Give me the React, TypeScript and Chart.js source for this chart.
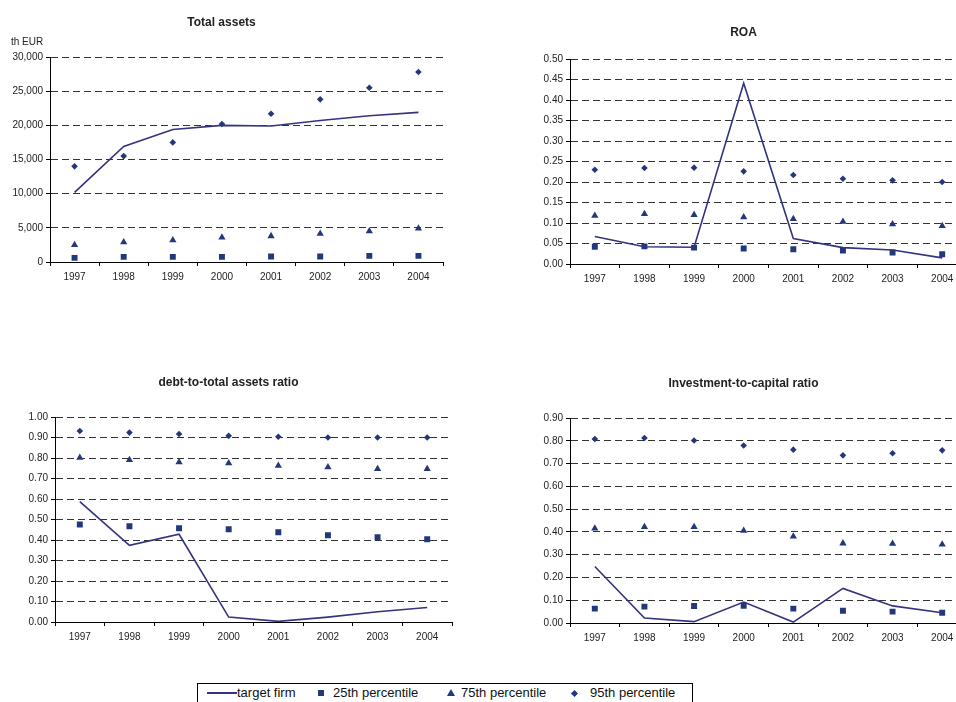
import React, { useEffect, useRef } from "react";
import { Chart, registerables } from "chart.js";

Chart.register(...registerables);

// ---------- data ----------
const YEARS = ["1997", "1998", "1999", "2000", "2001", "2002", "2003", "2004"];

const TA_TARGET = [10200, 16900, 19400, 20000, 19900, 20700, 21400, 21900];
const TA_P25 = [600, 750, 750, 750, 800, 800, 900, 900];
const TA_P75 = [2500, 2900, 3200, 3600, 3800, 4150, 4500, 4900];
const TA_P95 = [14000, 15500, 17500, 20200, 21700, 23800, 25500, 27800];

const ROA_TARGET = [0.067, 0.042, 0.041, 0.441, 0.062, 0.04, 0.034, 0.015];
const ROA_P25 = [0.042, 0.043, 0.04, 0.038, 0.036, 0.033, 0.028, 0.024];
const ROA_P75 = [0.118, 0.122, 0.12, 0.114, 0.11, 0.103, 0.097, 0.093];
const ROA_P95 = [0.23, 0.234, 0.235, 0.226, 0.217, 0.208, 0.204, 0.2];

const DEBT_TARGET = [0.587, 0.374, 0.428, 0.024, 0.003, 0.024, 0.05, 0.071];
const DEBT_P25 = [0.476, 0.467, 0.457, 0.452, 0.438, 0.423, 0.413, 0.404];
const DEBT_P75 = [0.802, 0.791, 0.78, 0.775, 0.763, 0.755, 0.747, 0.747];
const DEBT_P95 = [0.932, 0.924, 0.917, 0.908, 0.904, 0.9, 0.9, 0.9];

const INV_TARGET = [0.248, 0.022, 0.006, 0.092, 0.004, 0.152, 0.075, 0.045];
const INV_P25 = [0.063, 0.072, 0.075, 0.076, 0.063, 0.054, 0.05, 0.045];
const INV_P75 = [0.415, 0.422, 0.422, 0.405, 0.38, 0.35, 0.348, 0.345];
const INV_P95 = [0.808, 0.812, 0.801, 0.779, 0.761, 0.736, 0.745, 0.758];

const SERIES_NAMES = ["target firm", "25th percentile", "75th percentile", "95th percentile"];

// ---------- styles ----------
const FONT = "'Liberation Sans', Arial, sans-serif";
const LINE_COLOR = "#33337f";
const MARK_COLOR = "#22387a";
const GRID_COLOR = "#333333";
const TEXT_COLOR = "#222222";

type PanelProps = {
  title: string;
  left: number;
  top: number;
  width: number;
  height: number;
  titlePadTop: number;
  titlePadBottom: number;
  padRight: number;
  yMax: number;
  yStep: number;
  decimals: number;
  target: number[];
  p25: number[];
  p75: number[];
  p95: number[];
  unitLabel?: string;
};

function Panel(p: PanelProps) {
  const ref = useRef<HTMLCanvasElement | null>(null);
  useEffect(() => {
    if (!ref.current) return;
    const unitPlugin = {
      id: "unitLabel",
      afterDraw(chart: any) {
        if (!p.unitLabel) return;
        const { ctx, chartArea } = chart;
        ctx.save();
        ctx.font = `10px ${FONT}`;
        ctx.fillStyle = TEXT_COLOR;
        ctx.textAlign = "left";
        ctx.textBaseline = "middle";
        ctx.fillText(p.unitLabel, chartArea.left - 39, chartArea.top - 15);
        ctx.restore();
      },
    };
    const chart = new Chart(ref.current, {
      type: "line",
      data: {
        labels: YEARS,
        datasets: [
          {
            label: SERIES_NAMES[0],
            data: p.target,
            borderColor: LINE_COLOR,
            borderWidth: 1.6,
            pointRadius: 0,
            tension: 0,
            fill: false,
            order: 0,
          },
          {
            label: SERIES_NAMES[1],
            data: p.p25,
            showLine: false,
            pointStyle: "rect",
            pointRadius: 4.2,
            pointBackgroundColor: MARK_COLOR,
            pointBorderWidth: 0,
            order: 1,
          },
          {
            label: SERIES_NAMES[2],
            data: p.p75,
            showLine: false,
            pointStyle: "triangle",
            pointRadius: 4.2,
            pointBackgroundColor: MARK_COLOR,
            pointBorderWidth: 0,
            order: 1,
          },
          {
            label: SERIES_NAMES[3],
            data: p.p95,
            showLine: false,
            pointStyle: "rectRot",
            pointRadius: 3.3,
            pointBackgroundColor: MARK_COLOR,
            pointBorderWidth: 0,
            order: 1,
          },
        ],
      },
      options: {
        responsive: false,
        animation: false,
        devicePixelRatio: window.devicePixelRatio || 1,
        layout: { padding: { left: 0, right: p.padRight, top: 0, bottom: 0 } },
        plugins: {
          legend: { display: false },
          tooltip: { enabled: false },
          title: {
            display: true,
            text: p.title,
            color: TEXT_COLOR,
            font: { family: FONT, size: 12, weight: "bold", lineHeight: 1.2 },
            padding: { top: p.titlePadTop, bottom: p.titlePadBottom },
          },
        },
        scales: {
          x: {
            type: "category",
            offset: true,
            grid: {
              display: true,
              offset: true,
              drawOnChartArea: false,
              drawTicks: true,
              tickLength: 4,
              color: "#000",
              lineWidth: 1,
            },
            border: { display: true, color: "#000", width: 1 },
            ticks: {
              color: TEXT_COLOR,
              font: { family: FONT, size: 10 },
              padding: 5,
              maxRotation: 0,
              autoSkip: false,
            },
            afterFit(scale: any) {
              scale.height = 30;
            },
          },
          y: {
            min: 0,
            max: p.yMax,
            grid: {
              display: true,
              color: GRID_COLOR,
              lineWidth: 1,
              drawTicks: true,
              tickLength: 4,
              tickColor: "#000",
            },
            border: { display: true, color: "#000", width: 1, dash: [7, 4] },
            ticks: {
              stepSize: p.yStep,
              color: TEXT_COLOR,
              font: { family: FONT, size: 10 },
              padding: 3,
              callback: (v: any) =>
                p.decimals === 0
                  ? Number(v).toLocaleString("en-US")
                  : Number(v).toFixed(p.decimals),
            },
            afterFit(scale: any) {
              scale.width = 50;
            },
          },
        },
      } as any,
      plugins: [unitPlugin],
    });
    return () => chart.destroy();
  }, []);
  return (
    <canvas
      ref={ref}
      width={p.width}
      height={p.height}
      style={{
        position: "absolute",
        left: p.left,
        top: p.top,
        width: p.width,
        height: p.height,
      }}
    />
  );
}

function LegendBox() {
  const textStyle: React.CSSProperties = {
    position: "absolute",
    top: 0,
    fontFamily: FONT,
    fontSize: 13,
    lineHeight: "18px",
    color: "#111",
    whiteSpace: "nowrap",
  };
  return (
    <div
      style={{
        position: "absolute",
        left: 197,
        top: 683,
        width: 496,
        height: 22,
        border: "1px solid #000",
        boxSizing: "border-box",
        background: "#fff",
      }}
    >
      <div
        style={{
          position: "absolute",
          left: 9,
          top: 8,
          width: 30,
          height: 2,
          background: LINE_COLOR,
        }}
      />
      <span style={{ ...textStyle, left: 39 }}>{SERIES_NAMES[0]}</span>
      <div
        style={{
          position: "absolute",
          left: 120,
          top: 6,
          width: 6,
          height: 6,
          background: MARK_COLOR,
        }}
      />
      <span style={{ ...textStyle, left: 135 }}>{SERIES_NAMES[1]}</span>
      <div
        style={{
          position: "absolute",
          left: 249,
          top: 5,
          width: 0,
          height: 0,
          borderLeft: "4px solid transparent",
          borderRight: "4px solid transparent",
          borderBottom: `7px solid ${MARK_COLOR}`,
        }}
      />
      <span style={{ ...textStyle, left: 263 }}>{SERIES_NAMES[2]}</span>
      <div
        style={{
          position: "absolute",
          left: 374,
          top: 7,
          width: 5,
          height: 5,
          background: MARK_COLOR,
          transform: "rotate(45deg)",
        }}
      />
      <span style={{ ...textStyle, left: 392 }}>{SERIES_NAMES[3]}</span>
    </div>
  );
}

export default function App() {
  return (
    <div
      style={{
        position: "absolute",
        left: 0,
        top: 0,
        width: 956,
        height: 702,
        overflow: "hidden",
        background: "#fff",
      }}
    >
      <Panel
        title="Total assets"
        left={0}
        top={0}
        width={468}
        height={292}
        titlePadTop={15}
        titlePadBottom={27.6}
        padRight={25}
        yMax={30000}
        yStep={5000}
        decimals={0}
        target={TA_TARGET}
        p25={TA_P25}
        p75={TA_P75}
        p95={TA_P95}
        unitLabel="th EUR"
      />
      <Panel
        title="ROA"
        left={520}
        top={0}
        width={476}
        height={294}
        titlePadTop={25}
        titlePadBottom={19.6}
        padRight={29}
        yMax={0.5}
        yStep={0.05}
        decimals={2}
        target={ROA_TARGET}
        p25={ROA_P25}
        p75={ROA_P75}
        p95={ROA_P95}
      />
      <Panel
        title="debt-to-total assets ratio"
        left={5}
        top={360}
        width={476}
        height={292}
        titlePadTop={15.8}
        titlePadBottom={26.8}
        padRight={29}
        yMax={1}
        yStep={0.1}
        decimals={2}
        target={DEBT_TARGET}
        p25={DEBT_P25}
        p75={DEBT_P75}
        p95={DEBT_P95}
      />
      <Panel
        title="Investment-to-capital ratio"
        left={520}
        top={360}
        width={476}
        height={293}
        titlePadTop={16.8}
        titlePadBottom={26.8}
        padRight={29}
        yMax={0.9}
        yStep={0.1}
        decimals={2}
        target={INV_TARGET}
        p25={INV_P25}
        p75={INV_P75}
        p95={INV_P95}
      />
      <LegendBox />
    </div>
  );
}
